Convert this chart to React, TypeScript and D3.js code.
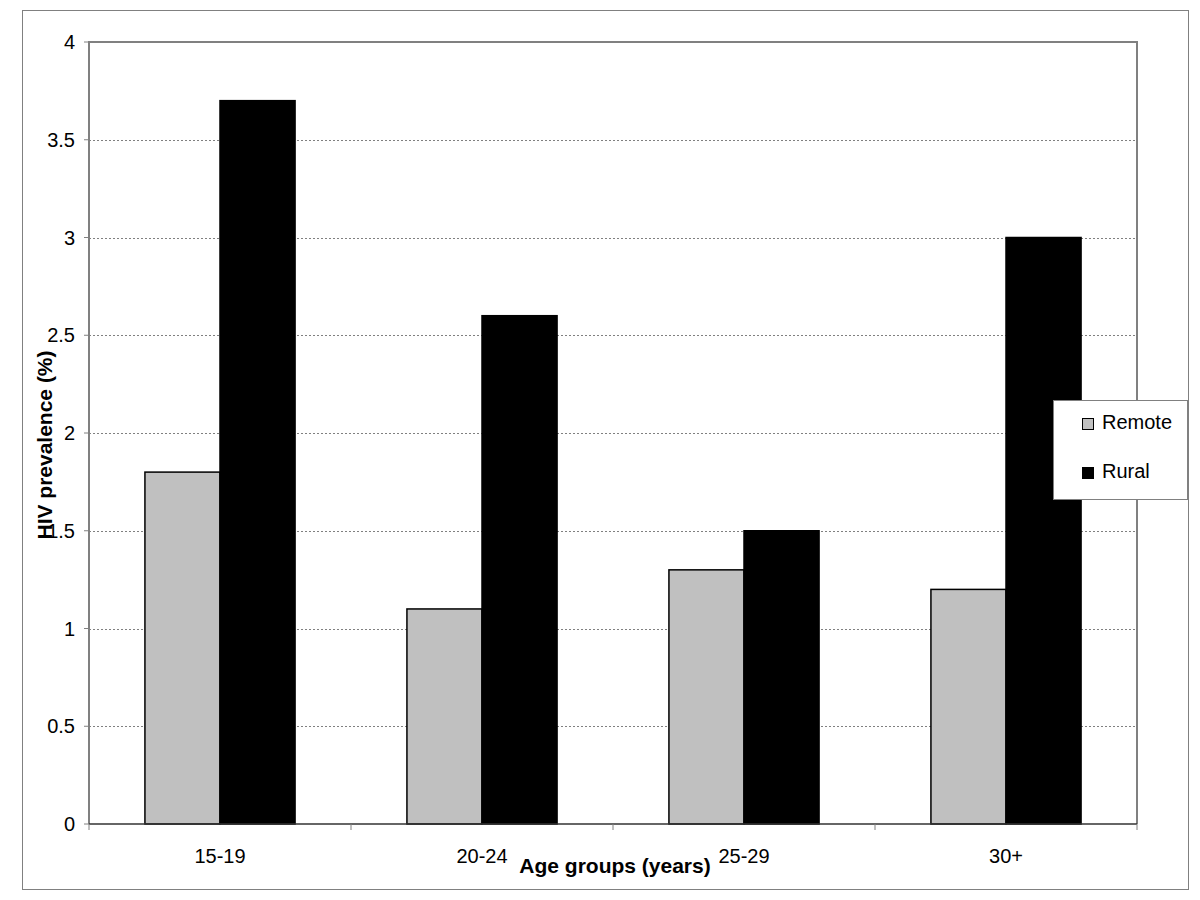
import React, { useEffect, useRef } from 'react'
import * as d3 from 'd3'

const categories = ['15-19', '20-24', '25-29', '30+']
const seriesNames = ['Remote', 'Rural']
const remoteValues = [1.8, 1.1, 1.3, 1.2]
const ruralValues = [3.7, 2.6, 1.5, 3.0]
const seriesColors = ['#c0c0c0', '#000000']
const yTicks = [0, 0.5, 1, 1.5, 2, 2.5, 3, 3.5, 4]

export default function App() {
  const svgRef = useRef<SVGSVGElement>(null)

  useEffect(() => {
    const svg = d3.select(svgRef.current)
    svg.selectAll('*').remove()

    const plot = { left: 89, right: 1137, top: 42, bottom: 824 }
    const font = '"Liberation Sans", Arial, sans-serif'

    const y = d3.scaleLinear().domain([0, 4]).range([plot.bottom, plot.top])
    const x0 = d3.scaleBand<string>().domain(categories).range([plot.left, plot.right])
    const x1 = d3.scaleBand<string>().domain(seriesNames)
      .range([0, x0.bandwidth()]).paddingInner(0).paddingOuter(0.745)
    const color = d3.scaleOrdinal<string, string>().domain(seriesNames).range(seriesColors)

    const data = categories.map((c, i) => ({
      cat: c,
      values: [
        { name: 'Remote', v: remoteValues[i] },
        { name: 'Rural', v: ruralValues[i] },
      ],
    }))

    svg.append('rect')
      .attr('width', 1200).attr('height', 900).attr('fill', '#fff')

    // outer chart border
    svg.append('rect')
      .attr('x', 22.5).attr('y', 10.5).attr('width', 1166).attr('height', 879)
      .attr('fill', 'none').attr('stroke', '#808080').attr('stroke-width', 1)

    // gridlines
    svg.append('g').selectAll('line')
      .data(yTicks.filter(t => t > 0 && t < 4))
      .enter().append('line')
      .attr('x1', plot.left).attr('x2', plot.right)
      .attr('y1', d => Math.round(y(d)) + 0.5).attr('y2', d => Math.round(y(d)) + 0.5)
      .attr('stroke', '#808080').attr('stroke-width', 1).attr('stroke-dasharray', '2,2')

    // bars
    const groups = svg.append('g').selectAll('g')
      .data(data).enter().append('g')
      .attr('transform', d => `translate(${x0(d.cat)},0)`)

    groups.selectAll('rect')
      .data(d => d.values).enter().append('rect')
      .attr('x', d => x1(d.name) as number)
      .attr('y', d => y(d.v))
      .attr('width', x1.bandwidth())
      .attr('height', d => y(0) - y(d.v))
      .attr('fill', d => color(d.name))
      .attr('stroke', '#000').attr('stroke-width', 1.5)

    // plot area frame (left, top, right)
    svg.append('path')
      .attr('d', `M${plot.left},${plot.bottom}V${plot.top}H${plot.right}V${plot.bottom}`)
      .attr('fill', 'none').attr('stroke', '#808080').attr('stroke-width', 2)

    // x axis line and ticks
    svg.append('line')
      .attr('x1', plot.left).attr('x2', plot.right)
      .attr('y1', plot.bottom).attr('y2', plot.bottom)
      .attr('stroke', '#333').attr('stroke-width', 1.5)

    const bounds = categories.map(c => x0(c) as number).concat([plot.right])
    svg.append('g').selectAll('line')
      .data(bounds).enter().append('line')
      .attr('x1', d => d).attr('x2', d => d)
      .attr('y1', plot.bottom).attr('y2', plot.bottom + 6)
      .attr('stroke', '#808080').attr('stroke-width', 1)

    svg.append('g').selectAll('text')
      .data(categories).enter().append('text')
      .attr('x', d => (x0(d) as number) + x0.bandwidth() / 2)
      .attr('y', 863)
      .attr('text-anchor', 'middle')
      .style('font', `20px ${font}`)
      .attr('fill', '#000')
      .text(d => d)

    // y axis ticks and labels
    svg.append('g').selectAll('line')
      .data(yTicks).enter().append('line')
      .attr('x1', plot.left - 5).attr('x2', plot.left)
      .attr('y1', d => y(d)).attr('y2', d => y(d))
      .attr('stroke', '#808080').attr('stroke-width', 1)

    svg.append('g').selectAll('text')
      .data(yTicks).enter().append('text')
      .attr('x', 75)
      .attr('y', d => y(d))
      .attr('dy', '0.36em')
      .attr('text-anchor', 'end')
      .style('font', `20px ${font}`)
      .attr('fill', '#000')
      .text(d => String(d))

    // axis titles
    svg.append('text')
      .attr('x', 615).attr('y', 873)
      .attr('text-anchor', 'middle')
      .style('font', `bold 21px ${font}`)
      .attr('fill', '#000')
      .text('Age groups (years)')

    svg.append('text')
      .attr('transform', 'translate(52,445) rotate(-90)')
      .attr('text-anchor', 'middle')
      .style('font', `bold 21px ${font}`)
      .attr('fill', '#000')
      .text('HIV prevalence (%)')

    // legend
    const legend = svg.append('g')
    legend.append('rect')
      .attr('x', 1053.5).attr('y', 400.5).attr('width', 134).attr('height', 99)
      .attr('fill', '#fff').attr('stroke', '#808080').attr('stroke-width', 1)

    const items = legend.selectAll('g.item')
      .data(seriesNames).enter().append('g')
      .attr('class', 'item')
      .attr('transform', (d, i) => `translate(1082,${418 + i * 49})`)

    items.append('rect')
      .attr('x', 0.5).attr('y', 0.5).attr('width', 11).attr('height', 11)
      .attr('fill', d => color(d)).attr('stroke', '#000').attr('stroke-width', 1)

    items.append('text')
      .attr('x', 20).attr('y', 11)
      .style('font', `20px ${font}`)
      .attr('fill', '#000')
      .text(d => d)
  }, [])

  return (
    <div>
      <svg ref={svgRef} width={1200} height={900}
        style={{ position: 'absolute', left: 0, top: 0, display: 'block' }} />
    </div>
  )
}
